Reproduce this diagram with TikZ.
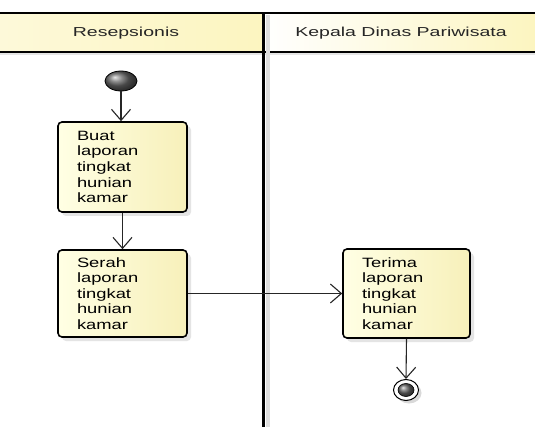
\documentclass[tikz,border=0pt]{standalone}
\usepackage{fontspec}
\setmainfont{Liberation Sans}
\newfontfamily\actionfont{Liberation Sans}[FakeStretch=1.36]
\newfontfamily\headfont{Liberation Sans}[FakeStretch=1.5]
\usetikzlibrary{arrows.meta,shapes.geometric,shadows}

\definecolor{paleyellow}{HTML}{FFFFE4}
\definecolor{deepyellow}{HTML}{F7F0BA}
\definecolor{headyellow}{HTML}{FCF5C0}

\tikzset{
  action/.style={draw=black, line width=1.6pt, rounded corners=4pt,
    left color=paleyellow, right color=deepyellow,
    drop shadow={shadow xshift=4pt, shadow yshift=-4pt, fill=gray!35, opacity=0.6},
    align=left, text width=91pt, inner xsep=19pt, inner ysep=0pt,
    font=\actionfont\fontsize{13.5}{15.6}\selectfont, minimum width=129pt},
  flow/.style={draw=black!85, line width=1.1pt, -{Straight Barb[length=11pt,width=19pt,line width=1.1pt]}},
  lanehead/.style={font=\headfont\fontsize{13}{15}\selectfont, text=black!85},
  startdot/.style={ellipse, draw=black, line width=0.8pt, shading=ball, ball color=black!60,
    minimum width=32pt, minimum height=20pt, inner sep=0pt},
  enddot/.style={ellipse, draw=black, line width=1pt, fill=white,
    minimum width=25pt, minimum height=21pt, inner sep=0pt}
}

\begin{document}
\begin{tikzpicture}[x=1pt,y=-1pt]
\useasboundingbox (0,0) rectangle (535,427);
\fill[white] (0,0) rectangle (535,427);

% lane headers
\shade[left color=headyellow!60, right color=headyellow] (0,13) rectangle (263,52);
\shade[left color=white, right color=headyellow] (263,13) rectangle (535,52);
\fill[gray!20] (0,52) rectangle (535,55);
\draw[line width=1.5pt] (0,13) -- (535,13);
\draw[line width=1.5pt] (0,52) -- (535,52);
\node[lanehead] (laneA) at (126,33) {Resepsionis};
\node[lanehead] (laneB) at (401,33) {Kepala Dinas Pariwisata};

% lane divider with its shadow
\fill[gray!25] (265.5,15) rectangle (270,427);
\draw[line width=3pt] (263,13) -- (263,427);

% actions
\node[startdot] (start) at (121,81) {};
\node[action, minimum height=90pt] (buat) at (122.5,167) {Buat\\laporan\\tingkat\\hunian\\kamar};
\node[action, minimum height=87pt] (serah) at (122.5,293.5) {Serah\\laporan\\tingkat\\hunian\\kamar};
\node[action, minimum height=89pt, minimum width=127pt, text width=89pt] (terima) at (406.5,293.5) {Terima\\laporan\\tingkat\\hunian\\kamar};

% final node
\fill[gray!30] (409,393) ellipse (12.5pt and 10.5pt);
\node[enddot] (final) at (406,390) {};
\shade[ball color=black!60] (final.center) ellipse (8pt and 6.5pt);
\draw[black, line width=0.6pt] (final.center) ellipse (8pt and 6.5pt);

% control flows
\draw[flow] (start.south) -- (start.south |- buat.north);
\draw[flow] (buat.south) -- (serah.north);
\draw[flow] (serah.east) -- (terima.west);
\draw[flow] (terima.south) -- (final.north);
\end{tikzpicture}
\end{document}
